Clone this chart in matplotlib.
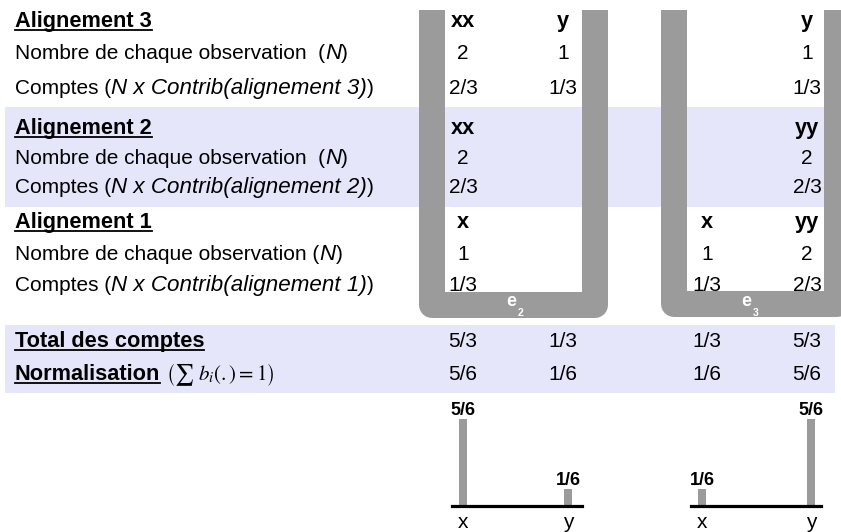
import matplotlib
matplotlib.use("Agg")
import matplotlib.pyplot as plt
from matplotlib.patches import Rectangle

plt.rcParams['font.family'] = ['Liberation Sans', 'DejaVu Sans']

# ---------------- data ----------------
align_titles = ['Alignement 3', 'Alignement 2', 'Alignement 1']
obs_align3 = ['xx', 'y', '', 'y']
n_align3 = ['2', '1', '', '1']
counts_align3 = ['2/3', '1/3', '', '1/3']
obs_align2 = ['xx', '', '', 'yy']
n_align2 = ['2', '', '', '2']
counts_align2 = ['2/3', '', '', '2/3']
obs_align1 = ['x', '', 'x', 'yy']
n_align1 = ['1', '', '1', '2']
counts_align1 = ['1/3', '', '1/3', '2/3']
total_counts = ['5/3', '1/3', '1/3', '5/3']
normalisation = ['5/6', '1/6', '1/6', '5/6']
states = ['2', '3']
symbols = ['x', 'y']
probs_e2 = [5/6, 1/6]
probs_e3 = [1/6, 5/6]
prob_labels_e2 = ['5/6', '1/6']
prob_labels_e3 = ['1/6', '5/6']

# ---------------- figure ----------------
W, H = 841, 532
fig = plt.figure(figsize=(W/100, H/100), dpi=100)
ax = fig.add_axes([0, 0, 1, 1])
ax.set_xlim(0, W)
ax.set_ylim(H, 0)
ax.axis('off')
renderer = fig.canvas.get_renderer()

LAV = '#E6E6FA'
GRAY = '#9B9B9B'
FS = 15
FS_B = 15.7
FS_I = 16.1

ax.add_patch(Rectangle((5, 107), 830, 100, color=LAV, zorder=0, lw=0))
ax.add_patch(Rectangle((5, 325), 830, 68, color=LAV, zorder=0, lw=0))

# U shapes
lw_pt = 26 * 72 / 100
ax.plot([432, 432, 595.5, 595.5], [10, 305, 305, 10], color=GRAY, lw=lw_pt,
        solid_joinstyle='round', solid_capstyle='butt', zorder=1)
ax.plot([674, 674, 837, 837], [10, 304, 304, 10], color=GRAY, lw=lw_pt,
        solid_joinstyle='round', solid_capstyle='butt', zorder=1)
for ex, st in zip([511, 746], states):
    ax.text(ex, 301, 'e', color='white', fontsize=13, fontweight='bold',
            ha='center', va='center', zorder=3)
    ax.text(ex + 10, 313.5, st, color='white', fontsize=7.5, fontweight='bold',
            ha='center', va='center', zorder=3)


def seq(x, y, pieces):
    for s, style, weight, size in pieces:
        t = ax.text(x, y, s, fontsize=size, fontstyle=style, fontweight=weight,
                    ha='left', va='baseline', zorder=3)
        bb = t.get_window_extent(renderer)
        x = bb.x1
    return x


def underlined(x, y, s, size=FS_B):
    t = ax.text(x, y, s, fontsize=size, fontweight='bold', ha='left',
                va='baseline', zorder=3)
    bb = t.get_window_extent(renderer)
    ax.plot([bb.x0, bb.x1], [y + 3, y + 3], color='black', lw=1.3, zorder=3)
    return bb.x1


col_x = [463, 563, 707, 807]
LX = 15

blocks = [
    (align_titles[0], '3', '  ', obs_align3, n_align3, counts_align3, [27, 59, 94]),
    (align_titles[1], '2', '  ', obs_align2, n_align2, counts_align2, [134, 164, 193]),
    (align_titles[2], '1', ' ', obs_align1, n_align1, counts_align1, [228, 260, 291]),
]
for title, num, sp, obs, ns, cts, ys in blocks:
    underlined(LX, ys[0], title)
    seq(LX, ys[1], [('Nombre de chaque observation' + sp + '(', 'normal', 'normal', FS),
                    ('N', 'italic', 'normal', FS_I), (')', 'normal', 'normal', FS)])
    seq(LX, ys[2], [('Comptes (', 'normal', 'normal', FS),
                    ('N x Contrib(alignement ' + num + ')', 'italic', 'normal', FS_I),
                    (')', 'normal', 'normal', FS)])
    for cx, o, n, c in zip(col_x, obs, ns, cts):
        ax.text(cx, ys[0], o, fontsize=FS_B, fontweight='bold', ha='center', va='baseline', zorder=3)
        ax.text(cx, ys[1], n, fontsize=FS, ha='center', va='baseline', zorder=3)
        ax.text(cx, ys[2], c, fontsize=FS, ha='center', va='baseline', zorder=3)

underlined(LX, 347, 'Total des comptes')
xe = underlined(LX, 380, 'Normalisation')
ax.text(xe + 6, 380, r'$\left(\sum\ b_i(.)=1\right)$', fontsize=FS,
        math_fontfamily='stix', ha='left', va='baseline', zorder=3)
for cx, tc, nm in zip(col_x, total_counts, normalisation):
    ax.text(cx, 347, tc, fontsize=FS, ha='center', va='baseline', zorder=3)
    ax.text(cx, 380, nm, fontsize=FS, ha='center', va='baseline', zorder=3)

# bar charts
SCALE = 104.4


def bar_chart(x0, x1, bx0, bx1, probs, labels):
    unit = bx1 - bx0
    bax = fig.add_axes([x0 / W, (H - 506) / H, (x1 - x0) / W, SCALE / H])
    bax.set_xlim((x0 - bx0) / unit, (x1 - bx0) / unit)
    bax.set_ylim(0, 1)
    bax.bar(range(len(probs)), probs, width=8 / unit, color=GRAY, zorder=1)
    bax.axhline(0, color='black', lw=2.3, zorder=2, clip_on=False)
    for i, (p, lab) in enumerate(zip(probs, labels)):
        bax.annotate(lab, (i, p), xytext=(0, 0), textcoords='offset points',
                     ha='center', va='bottom', fontsize=13, fontweight='bold')
    bax.set_xticks(range(len(symbols)))
    bax.set_xticklabels(symbols, fontsize=FS)
    bax.tick_params(axis='x', length=0, pad=5)
    bax.set_yticks([])
    for s in bax.spines.values():
        s.set_visible(False)
    bax.patch.set_alpha(0)


bar_chart(452, 582, 463, 568, probs_e2, prob_labels_e2)
bar_chart(691, 821, 702, 811, probs_e3, prob_labels_e3)

fig.savefig('out.png', dpi=100)
